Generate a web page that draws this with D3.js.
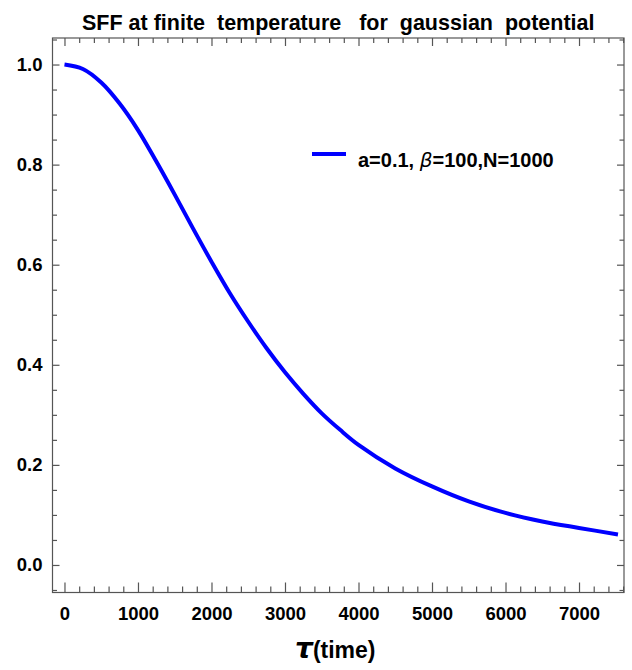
<!DOCTYPE html>
<html>
<head>
<meta charset="utf-8">
<script src="https://cdn.jsdelivr.net/npm/d3@7"></script>
<style>
  html, body { margin: 0; padding: 0; background: #fff; }
  svg { display: block; }
  text { font-family: "Liberation Sans", Arial, sans-serif; font-weight: bold; fill: #000; }
</style>
</head>
<body>
<svg id="chart" width="632" height="670"></svg>
<script>
// ---- data ----
const tau = [0, 250, 500, 750, 1000, 1250, 1500, 1750, 2000, 2250, 2500, 2750, 3000, 3250, 3500, 3750, 4000, 4500, 5000, 5500, 6000, 6500, 7000, 7530];
const sff = [1.0, 0.991, 0.964, 0.922, 0.869, 0.806, 0.740, 0.672, 0.606, 0.543, 0.486, 0.433, 0.385, 0.342, 0.303, 0.270, 0.240, 0.193, 0.157, 0.127, 0.104, 0.087, 0.074, 0.061];
const xMajorTicks = [0, 1000, 2000, 3000, 4000, 5000, 6000, 7000];
const yMajorTicks = [0.0, 0.2, 0.4, 0.6, 0.8, 1.0];
const titleText = "SFF at finite  temperature   for  gaussian  potential";
const legendLabel = ["a=0.1, ", "\u03B2", "=100,N=1000"];

// ---- layout ----
const svg = d3.select("#chart");
const x = d3.scaleLinear().domain([-163, 7612]).range([52.5, 624]);
const y = d3.scaleLinear().domain([-0.055, 1.053]).range([592.5, 38]);
const [x0, x1] = x.range();
const [y0, y1] = y.range();

const xMinor = d3.range(0, 7601, 200).filter(v => !xMajorTicks.includes(v));
const yMinor = d3.range(-0.05, 1.051, 0.05).map(v => +v.toFixed(2)).filter(v => !yMajorTicks.some(t => Math.abs(t - v) < 1e-9));

const frameColor = "#555";

// frame
svg.append("rect").attr("x", x0).attr("y", y1).attr("width", x1 - x0).attr("height", y0 - y1)
  .attr("fill", "none").attr("stroke", frameColor).attr("stroke-width", 1.2);

function styleAxis(g) {
  g.select(".domain").remove();
  g.selectAll(".tick line").attr("stroke", frameColor).attr("stroke-width", 1.2);
}
function styleLabels(g) {
  g.selectAll("text").attr("font-size", 18.5).attr("font-family", "Liberation Sans, Arial, sans-serif")
    .attr("font-weight", "bold").attr("fill", "#000");
}

// bottom axis
svg.append("g").attr("transform", `translate(0,${y0})`)
  .call(d3.axisBottom(x).tickValues(xMajorTicks).tickSizeInner(-10).tickSizeOuter(0).tickPadding(14).tickFormat(d3.format("d")))
  .call(styleAxis).call(styleLabels);
svg.append("g").attr("transform", `translate(0,${y0})`)
  .call(d3.axisBottom(x).tickValues(xMinor).tickSizeInner(-6).tickSizeOuter(0).tickFormat(""))
  .call(styleAxis);

// top axis
svg.append("g").attr("transform", `translate(0,${y1})`)
  .call(d3.axisTop(x).tickValues(xMajorTicks).tickSizeInner(-8).tickSizeOuter(0).tickFormat(""))
  .call(styleAxis);
svg.append("g").attr("transform", `translate(0,${y1})`)
  .call(d3.axisTop(x).tickValues(xMinor).tickSizeInner(-5).tickSizeOuter(0).tickFormat(""))
  .call(styleAxis);

// left axis
svg.append("g").attr("transform", `translate(${x0},0)`)
  .call(d3.axisLeft(y).tickValues(yMajorTicks).tickSizeInner(-7).tickSizeOuter(0).tickPadding(10).tickFormat(d3.format(".1f")))
  .call(styleAxis).call(styleLabels);
svg.append("g").attr("transform", `translate(${x0},0)`)
  .call(d3.axisLeft(y).tickValues(yMinor).tickSizeInner(-4.5).tickSizeOuter(0).tickFormat(""))
  .call(styleAxis);

// right axis
svg.append("g").attr("transform", `translate(${x1},0)`)
  .call(d3.axisRight(y).tickValues(yMajorTicks).tickSizeInner(-7).tickSizeOuter(0).tickFormat(""))
  .call(styleAxis);
svg.append("g").attr("transform", `translate(${x1},0)`)
  .call(d3.axisRight(y).tickValues(yMinor).tickSizeInner(-4.5).tickSizeOuter(0).tickFormat(""))
  .call(styleAxis);

// curve
const pts = tau.map((t, i) => [t, sff[i]]);
const line = d3.line().x(d => x(d[0])).y(d => y(d[1])).curve(d3.curveCatmullRom.alpha(0.5));
svg.append("path").datum(pts).attr("d", line)
  .attr("fill", "none").attr("stroke", "#0000ff").attr("stroke-width", 4).attr("stroke-linecap", "butt");

// title
svg.append("text").attr("x", (x0 + x1) / 2).attr("y", 30).attr("text-anchor", "middle")
  .attr("font-size", 21.5).style("white-space", "pre").attr("xml:space", "preserve")
  .text(titleText);

// legend
svg.append("line").attr("x1", 312).attr("x2", 346).attr("y1", 154).attr("y2", 154)
  .attr("stroke", "#0000ff").attr("stroke-width", 4);
const lt = svg.append("text").attr("x", 358).attr("y", 167).attr("font-size", 20).style("white-space", "pre");
lt.append("tspan").text(legendLabel[0]);
lt.append("tspan").attr("font-style", "italic").attr("font-weight", "normal").attr("font-family", "DejaVu Sans, sans-serif").text(legendLabel[1]);
lt.append("tspan").text(legendLabel[2]);

// x-axis label
const xl = svg.append("text").attr("x", (x0 + x1) / 2 - 3).attr("y", 658).attr("text-anchor", "middle");
xl.append("tspan").attr("font-size", 28).attr("font-style", "italic").attr("font-family", "DejaVu Sans, sans-serif").text("\u03C4");
xl.append("tspan").attr("font-size", 23).text("(time)");
</script>
</body>
</html>
